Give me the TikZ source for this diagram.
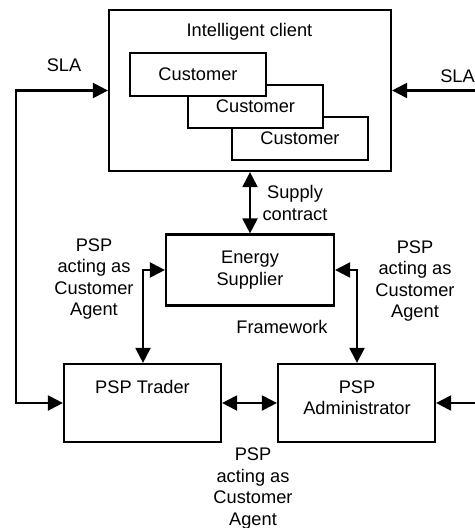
\documentclass[tikz,border=0pt]{standalone}
\usepackage{fontspec}
\setmainfont{Liberation Sans}
\usetikzlibrary{arrows.meta}
\begin{document}
\begin{tikzpicture}[x=1bp,y=-1bp,
  every node/.style={font=\fontsize{18.3}{21.5}\selectfont, inner sep=0pt, align=center},
  box/.style={draw, line width=2.2bp, fill=white},
  conn/.style={line width=2.2bp, >={Triangle[length=15bp,width=15bp]}},
  lbl/.style={}]
\useasboundingbox (0,0) rectangle (475,528);
% main boxes
\node[box, minimum width=282bp, minimum height=161bp] (client) at (250,90.5) {};
\node[lbl] (clienttext) at (249.5,32) {Intelligent client};
\node[box, minimum width=136bp, minimum height=43bp] (cust3) at (300,138.5) {Customer};
\node[box, minimum width=135bp, minimum height=43bp] (cust2) at (255.5,106.5) {Customer};
\node[box, minimum width=136bp, minimum height=43bp] (cust1) at (198,74.5) {Customer};
\node[box, minimum width=168bp, minimum height=71bp] (es) at (250,270) {Energy\\Supplier};
\node[box, minimum width=157bp, minimum height=78bp] (trader) at (142.5,403) {};
\node[lbl] (tradertext) at (142.5,386.5) {PSP Trader};
\node[box, minimum width=157bp, minimum height=78bp] (admin) at (356.5,403) {};
\node[lbl] (admintext) at (357,397.5) {PSP\\Administrator};
% coordinates
\coordinate (lc) at (16,250);
\coordinate (rc1) at (475,90.5);
\coordinate (rc2) at (475,403);
\coordinate (lj) at (143,270);
\coordinate (rj) at (357,270);
% connectors
\draw[conn,<->] (client.west) -- (client.west -| lc) -- (trader.west -| lc) -- (trader.west);
\draw[conn,->] (rc1) -- (client.east);
\draw[conn,->] (rc2) -- (admin.east);
\draw[conn,<->] (client.south) -- (es.north);
\draw[conn,<->] (es.west) -- (lj) -- (lj |- trader.north);
\draw[conn,<->] (es.east) -- (rj) -- (rj |- admin.north);
\draw[conn,<->] (trader.east) -- (admin.west);
% labels
\node[lbl] (slal) at (64,65) {SLA};
\node[lbl] (slar) at (457.5,76) {SLA};
\node[lbl] (supply) at (295,203) {Supply\\contract};
\node[lbl] (pspl) at (94,279) {PSP\\acting as\\Customer\\Agent};
\node[lbl] (pspr) at (415,281) {PSP\\acting as\\Customer\\Agent};
\node[lbl] (frame) at (282,327) {Framework};
\node[lbl] (pspb) at (253,488.5) {PSP\\acting as\\Customer\\Agent};
\end{tikzpicture}
\end{document}
